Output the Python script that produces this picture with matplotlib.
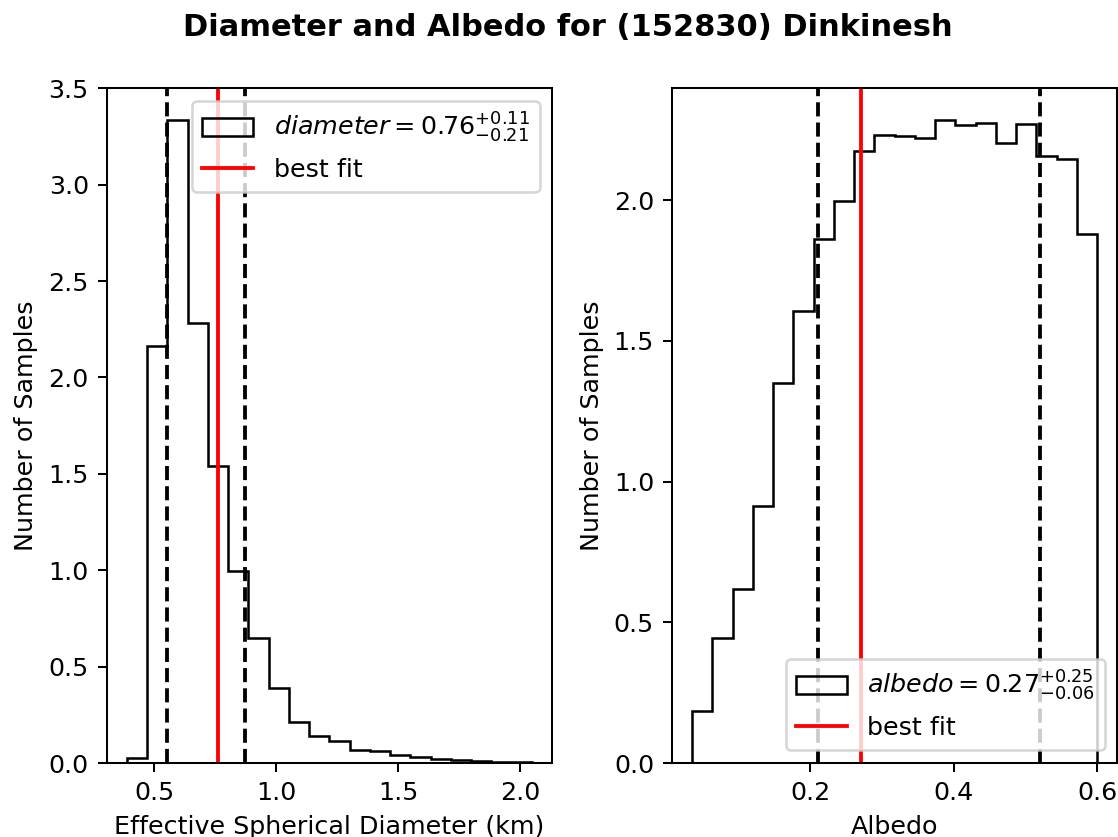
#!/usr/bin/env python3

import matplotlib
matplotlib.use('Agg')
import matplotlib.pyplot
import numpy

# diameter posterior, density per bin (20 bins)
diam_range = (0.387, 2.049)
diam_density = [0.028, 2.164, 3.335, 2.282, 1.542, 0.998, 0.646, 0.387, 0.213, 0.139,
                0.113, 0.067, 0.060, 0.039, 0.032, 0.021, 0.016, 0.012, 0.007, 0.005]
diam_best = 0.76
diam_plus = 0.11
diam_minus = 0.21

# albedo posterior, density per bin (20 bins)
albedo_range = (0.035, 0.600)
albedo_density = [0.183, 0.444, 0.619, 0.914, 1.351, 1.605, 1.860, 1.995, 2.173, 2.232,
                  2.227, 2.221, 2.284, 2.268, 2.275, 2.203, 2.271, 2.157, 2.146, 1.881]
albedo_best = 0.27
albedo_plus = 0.25
albedo_minus = 0.06

DPI = 183

def draw_posterior(ax, value_range, density, best, plus, minus, name, xlabel, legend_loc):
  edges = numpy.linspace(value_range[0], value_range[1], len(density) + 1)
  ax.hist(edges[:-1], bins=edges, weights=density, histtype='step', color='k',
          label=f'${name} = {best:.2f}^{{+{plus:.2f}}}_{{-{minus:.2f}}}$')
  ax.axvline(best, color='r', label='best fit')
  ax.axvline(best - minus, color='k', linestyle='--')
  ax.axvline(best + plus, color='k', linestyle='--')
  ax.set_xlabel(xlabel)
  ax.set_ylabel('Number of Samples')
  ax.legend(loc=legend_loc)

fig, (ax1, ax2) = matplotlib.pyplot.subplots(1, 2, figsize=(1118 / DPI, 837 / DPI), dpi=DPI)
fig.subplots_adjust(left=0.0954, right=0.9995, bottom=0.0884, top=0.8949, wspace=0.2684)

draw_posterior(ax1, diam_range, diam_density, diam_best, diam_plus, diam_minus,
               'diameter', 'Effective Spherical Diameter (km)', 'upper right')
draw_posterior(ax2, albedo_range, albedo_density, albedo_best, albedo_plus, albedo_minus,
               'albedo', 'Albedo', 'lower right')

fig.suptitle('Diameter and Albedo for (152830) Dinkinesh', fontweight='bold', x=0.5076, y=0.985)

fig.savefig('out.png', dpi=DPI)
